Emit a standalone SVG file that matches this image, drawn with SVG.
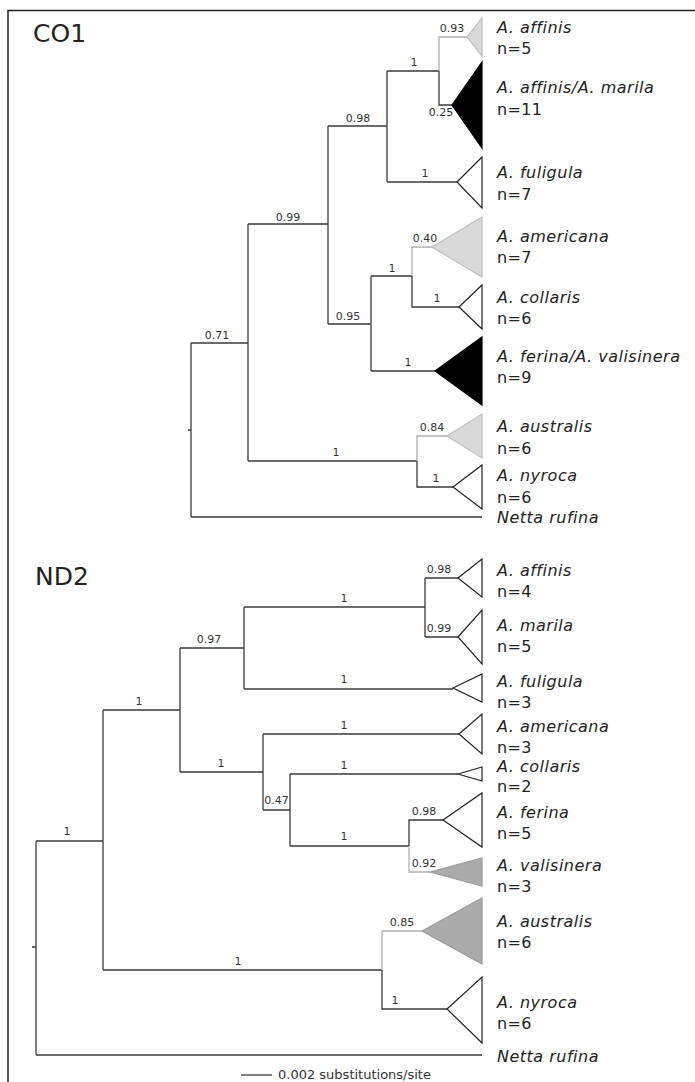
<svg xmlns="http://www.w3.org/2000/svg" width="695" height="1082" viewBox="0 0 695 1082">
<defs>
<style>
.frame{fill:none;stroke:#222;stroke-width:1.5}
.br{fill:none;stroke:#3a3a3a;stroke-width:1.3}
.brg{fill:none;stroke:#b0b0b0;stroke-width:1.3}
.tw{fill:#fff;stroke:#222;stroke-width:1.2}
.tb{fill:#000;stroke:#000;stroke-width:1.2}
.tg1{fill:#d9d9d9;stroke:#bdbdbd;stroke-width:1.2}
.tg2{fill:#ababab;stroke:#999;stroke-width:1.2}
.sv{font-family:"DejaVu Sans",sans-serif;font-size:11px;fill:#333;text-anchor:middle}
.sp{font-family:"DejaVu Sans",sans-serif;font-size:16px;font-style:italic;fill:#222;letter-spacing:0.5px}
.n{font-family:"DejaVu Sans",sans-serif;font-size:16px;fill:#222;letter-spacing:0.3px}
.ttl{font-family:"DejaVu Sans",sans-serif;font-size:25px;fill:#222}
.scl{font-family:"DejaVu Sans",sans-serif;font-size:13px;fill:#333}
</style>
</defs>
<rect width="695" height="1082" fill="#fff"/>
<path class="frame" d="M8 1082 V10.5 H695"/>
<text class="ttl" x="33" y="42">CO1</text>
<text class="ttl" x="35" y="585">ND2</text>

<g id="connectors">
<!-- CO1 -->
<path class="br" d="M188 430 H191 M191 343 V517 M191 343 H248 M191 517 H482 M248 224 V461 M248 224 H328 M248 461 H417 M328 126 V324 M328 126 H387 M328 324 H371 M387 71 V182 M387 71 H439 M387 182 H457 M439 71 V105 H452 M371 276 V371 M371 276 H412 M371 371 H435 M412 276 V307 H459 M417 461 V487 H453"/>
<path class="brg" d="M439 71 V37 H467 M412 276 V247 H432 M417 461 V436 H447"/>
<!-- ND2 -->
<path class="br" d="M32 947 H36 M36 841 V1055 M36 841 H103 M36 1055 H482 M103 710 V970 M103 710 H180 M103 970 H382 M180 648 V772 M180 648 H244 M180 772 H263 M244 607 V689 M244 607 H425 M244 689 H453 M425 578 V637 M425 578 H458 M425 637 H458 M263 734 V810 M263 734 H459 M263 810 H290 M290 774 V846 M290 774 H458 M290 846 H409 M409 846 V820 H443 M382 970 V1009 H447"/>
<path class="brg" d="M409 846 V872 H430 M382 970 V931 H422"/>
<path class="br" d="M241 1075 H272"/>
</g>

<g id="co1-support">
<text class="sv" x="452" y="32">0.93</text>
<text class="sv" x="414" y="66">1</text>
<text class="sv" x="441" y="116">0.25</text>
<text class="sv" x="358" y="122">0.98</text>
<text class="sv" x="425" y="177">1</text>
<text class="sv" x="288" y="221">0.99</text>
<text class="sv" x="425" y="242">0.40</text>
<text class="sv" x="392" y="272">1</text>
<text class="sv" x="437" y="302">1</text>
<text class="sv" x="348" y="320">0.95</text>
<text class="sv" x="217" y="339">0.71</text>
<text class="sv" x="408" y="366">1</text>
<text class="sv" x="432" y="431">0.84</text>
<text class="sv" x="336" y="456">1</text>
<text class="sv" x="436" y="482">1</text>
</g>

<g id="co1-affinis"><polygon class="tg1" points="467,37 482,18 482,56"/><text class="sp" x="497" y="33">A. affinis</text><text class="n" x="497" y="54">n=5</text></g>
<g id="co1-affinis-marila"><polygon class="tb" points="452,105 482,62 482,148"/><text class="sp" x="497" y="93">A. affinis/A. marila</text><text class="n" x="497" y="115">n=11</text></g>
<g id="co1-fuligula"><polygon class="tw" points="457,182 482,157 482,208"/><text class="sp" x="497" y="178">A. fuligula</text><text class="n" x="497" y="200">n=7</text></g>
<g id="co1-americana"><polygon class="tg1" points="432,247 482,217 482,277"/><text class="sp" x="497" y="242">A. americana</text><text class="n" x="497" y="263">n=7</text></g>
<g id="co1-collaris"><polygon class="tw" points="459,307 482,285 482,329"/><text class="sp" x="497" y="303">A. collaris</text><text class="n" x="497" y="324">n=6</text></g>
<g id="co1-ferina-valisinera"><polygon class="tb" points="435,371 482,337 482,405"/><text class="sp" x="497" y="362">A. ferina/A. valisinera</text><text class="n" x="497" y="383">n=9</text></g>
<g id="co1-australis"><polygon class="tg1" points="447,436 482,414 482,458"/><text class="sp" x="497" y="432">A. australis</text><text class="n" x="497" y="454">n=6</text></g>
<g id="co1-nyroca"><polygon class="tw" points="453,487 482,465 482,509"/><text class="sp" x="497" y="481">A. nyroca</text><text class="n" x="497" y="503">n=6</text></g>
<g id="co1-netta"><text class="sp" x="497" y="523">Netta rufina</text></g>

<g id="nd2-support">
<text class="sv" x="139" y="705">1</text>
<text class="sv" x="209" y="643">0.97</text>
<text class="sv" x="221" y="767">1</text>
<text class="sv" x="344" y="602">1</text>
<text class="sv" x="439" y="573">0.98</text>
<text class="sv" x="439" y="632">0.99</text>
<text class="sv" x="344" y="683">1</text>
<text class="sv" x="344" y="729">1</text>
<text class="sv" x="344" y="769">1</text>
<text class="sv" x="276.5" y="804">0.47</text>
<text class="sv" x="424" y="815">0.98</text>
<text class="sv" x="344" y="840">1</text>
<text class="sv" x="424" y="867">0.92</text>
<text class="sv" x="402" y="926">0.85</text>
<text class="sv" x="238" y="965">1</text>
<text class="sv" x="395" y="1004">1</text>
<text class="sv" x="67" y="835">1</text>
</g>

<g id="nd2-affinis"><polygon class="tw" points="458,578 482,559 482,597"/><text class="sp" x="497" y="576">A. affinis</text><text class="n" x="497" y="597">n=4</text></g>
<g id="nd2-marila"><polygon class="tw" points="458,637 482,610 482,664"/><text class="sp" x="497" y="631">A. marila</text><text class="n" x="497" y="652">n=5</text></g>
<g id="nd2-fuligula"><polygon class="tw" points="453,688 482,674 482,702"/><text class="sp" x="497" y="687">A. fuligula</text><text class="n" x="497" y="708">n=3</text></g>
<g id="nd2-americana"><polygon class="tw" points="459,734 482,714 482,754"/><text class="sp" x="497" y="732">A. americana</text><text class="n" x="497" y="753">n=3</text></g>
<g id="nd2-collaris"><polygon class="tw" points="458,774 482,767 482,781"/><text class="sp" x="497" y="772">A. collaris</text><text class="n" x="497" y="792">n=2</text></g>
<g id="nd2-ferina"><polygon class="tw" points="443,820 482,793 482,847"/><text class="sp" x="497" y="818">A. ferina</text><text class="n" x="497" y="839">n=5</text></g>
<g id="nd2-valisinera"><polygon class="tg2" points="430,872 482,858 482,886"/><text class="sp" x="497" y="871">A. valisinera</text><text class="n" x="497" y="892">n=3</text></g>
<g id="nd2-australis"><polygon class="tg2" points="422,931 482,898 482,964"/><text class="sp" x="497" y="927">A. australis</text><text class="n" x="497" y="948">n=6</text></g>
<g id="nd2-nyroca"><polygon class="tw" points="447,1009 482,977 482,1043"/><text class="sp" x="497" y="1008">A. nyroca</text><text class="n" x="497" y="1029">n=6</text></g>
<g id="nd2-netta"><text class="sp" x="497" y="1062">Netta rufina</text></g>

<g id="scale"><text class="scl" x="278" y="1079">0.002 substitutions/site</text></g>
</svg>
